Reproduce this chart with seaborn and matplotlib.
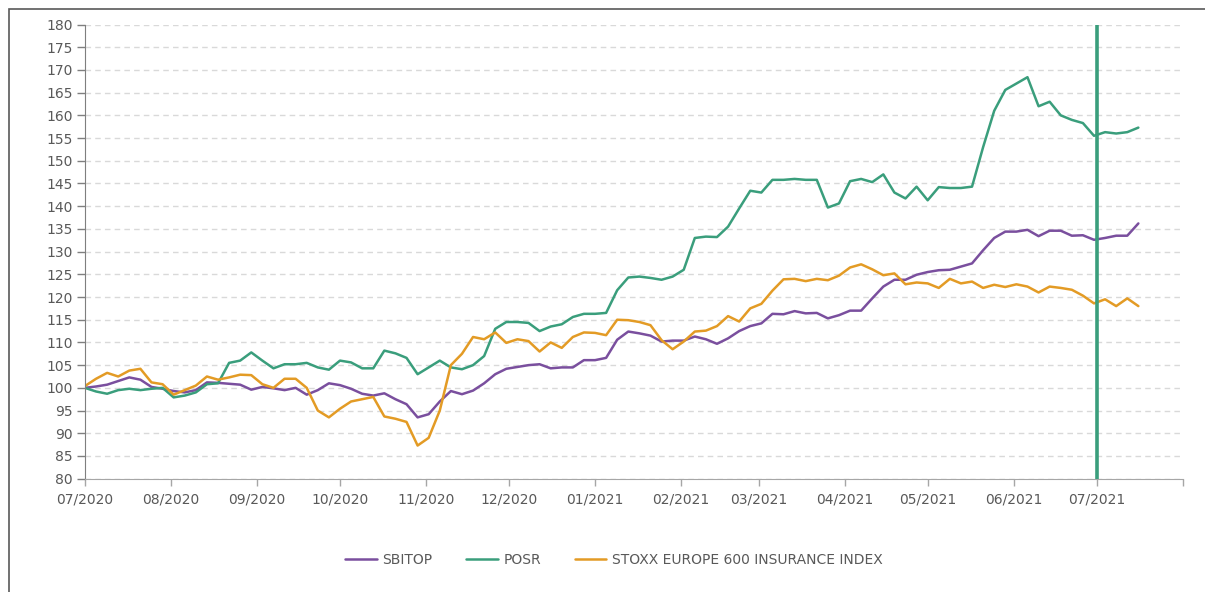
import numpy as np
import pandas as pd
import matplotlib
matplotlib.use("Agg")
import matplotlib.pyplot as plt
import seaborn as sns

# sampled every 4 days from 2020-07-01
dates = pd.date_range("2020-07-01", periods=96, freq="4D")

sbitop = [100, 100.3, 100.7, 101.5, 102.3, 101.8, 100.2, 99.8, 99.3, 99.0,
          99.5, 101.2, 101.1, 100.9, 100.7, 99.6, 100.2, 99.9, 99.5, 100,
          98.5, 99.5, 101, 100.6, 99.8, 98.7, 98.3, 98.8, 97.5, 96.4,
          93.5, 94.2, 97, 99.3, 98.6, 99.4, 101, 103, 104.2, 104.6,
          105, 105.2, 104.3, 104.5, 104.5, 106.1, 106.1, 106.6, 110.6, 112.4,
          112, 111.5, 110.2, 110.4, 110.4, 111.3, 110.7, 109.7, 110.9, 112.5,
          113.6, 114.2, 116.3, 116.2, 116.9, 116.4, 116.5, 115.3, 116, 117,
          117, 119.7, 122.3, 123.8, 123.8, 124.9, 125.5, 125.9, 126, 126.7,
          127.4, 130.3, 133, 134.4, 134.4, 134.8, 133.4, 134.6, 134.6, 133.5,
          133.6, 132.6, 133, 133.5, 133.5, 136.2]

posr = [100, 99.2, 98.7, 99.5, 99.8, 99.5, 99.8, 100, 97.9, 98.3,
        99, 100.8, 101, 105.5, 106, 107.8, 106, 104.3, 105.2, 105.2,
        105.5, 104.5, 104, 106, 105.6, 104.3, 104.3, 108.2, 107.6, 106.6,
        103, 104.5, 106, 104.5, 104.1, 105, 107, 113, 114.5, 114.5,
        114.3, 112.5, 113.5, 114, 115.6, 116.3, 116.3, 116.5, 121.5, 124.3,
        124.5, 124.2, 123.8, 124.5, 126, 133, 133.3, 133.2, 135.5, 139.5,
        143.4, 143, 145.8, 145.8, 146, 145.8, 145.8, 139.7, 140.6, 145.5,
        146, 145.3, 147, 143, 141.7, 144.3, 141.3, 144.2, 144, 144,
        144.3, 153, 161, 165.6, 167, 168.4, 162, 163, 160, 159,
        158.3, 155.5, 156.3, 156, 156.3, 157.3]

stoxx = [100.4, 102, 103.3, 102.5, 103.8, 104.2, 101.2, 100.8, 98.5, 99.5,
         100.5, 102.5, 101.8, 102.3, 102.9, 102.8, 100.8, 100, 102, 102,
         100, 95, 93.5, 95.4, 97, 97.5, 98, 93.7, 93.2, 92.5,
         87.3, 89, 95, 105, 107.5, 111.2, 110.7, 112.2, 109.9, 110.7,
         110.3, 108, 110, 108.8, 111.2, 112.2, 112.1, 111.6, 115, 114.9,
         114.5, 113.8, 110.5, 108.5, 110.2, 112.4, 112.6, 113.6, 115.8, 114.6,
         117.5, 118.5, 121.4, 123.9, 124, 123.5, 124, 123.7, 124.7, 126.5,
         127.2, 126.1, 124.8, 125.2, 122.8, 123.2, 123, 122, 124, 123,
         123.4, 122, 122.7, 122.2, 122.8, 122.3, 121, 122.3, 122, 121.6,
         120.3, 118.6, 119.5, 118, 119.7, 118]

names = ["SBITOP", "POSR", "STOXX EUROPE 600 INSURANCE INDEX"]
colors = ["#7a4f9e", "#3a9e7c", "#e39b25"]

df = pd.DataFrame({"date": dates, "SBITOP": sbitop, "POSR": posr,
                   "STOXX EUROPE 600 INSURANCE INDEX": stoxx})
long = df.melt(id_vars="date", var_name="series", value_name="value")

sns.set_style("white")
plt.rcParams["font.family"] = ["DejaVu Sans"]
text_col = "#595959"

fig = plt.figure(figsize=(12.05, 5.92), dpi=100)
ax = fig.add_axes([0.0705, 0.1914, 0.911, 0.7672])

sns.lineplot(data=long, x="date", y="value", hue="series", hue_order=names,
             palette=colors, linewidth=1.8, ax=ax)

ax.axvline(pd.Timestamp("2021-07-01"), color=colors[1], linewidth=2.6, zorder=5)

ax.set_ylim(80, 180)
ax.set_yticks(np.arange(80, 181, 5))
ax.set_xlim(pd.Timestamp("2020-07-01"), pd.Timestamp("2021-08-01"))
month_ticks = pd.date_range("2020-07-01", "2021-08-01", freq="MS")
ax.set_xticks(month_ticks)
ax.set_xticklabels([d.strftime("%m/%Y") for d in month_ticks[:-1]] + [""])

ax.grid(axis="y", color="#d9d9d9", linestyle=(0, (4, 3)), linewidth=1)
ax.set_axisbelow(True)
for s in ["top", "right"]:
    ax.spines[s].set_visible(False)
ax.spines["left"].set_color("#7f7f7f")
ax.spines["bottom"].set_color("#a6a6a6")
ax.tick_params(axis="y", direction="out", length=6, width=1, color="#7f7f7f",
               labelsize=10, labelcolor=text_col, left=True, pad=3)
ax.tick_params(axis="x", direction="out", length=5, width=1, color="#a6a6a6",
               labelsize=10, labelcolor=text_col, bottom=True, pad=5)
ax.set_xlabel("")
ax.set_ylabel("")

handles, labels = ax.get_legend_handles_labels()
ax.legend(handles, labels, loc="center", bbox_to_anchor=(0.5095, 0.054),
          bbox_transform=fig.transFigure, ncol=3, frameon=False,
          fontsize=10, labelcolor=text_col, handlelength=2.3,
          columnspacing=2.4, handletextpad=0.4)

# outer chart border
fig.patches.append(plt.Rectangle((9 / 1205, -0.1), 1.2, 1 - 9 / 592 + 0.1,
                                 transform=fig.transFigure, fill=False,
                                 edgecolor="#595959", linewidth=1.2))

fig.savefig("out.png", dpi=100)
